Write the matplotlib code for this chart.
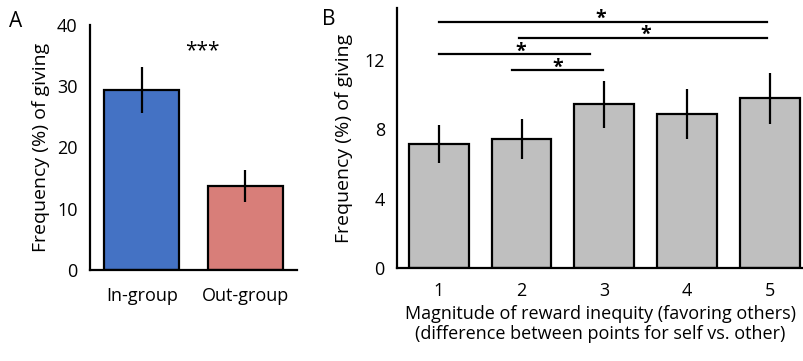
import matplotlib as mpl
mpl.use('agg')
import matplotlib.pyplot as plt

plt.rcParams['font.family'] = ['Open Sans', 'DejaVu Sans']

# panel A
groups = ["In-group", "Out-group"]
group_freq = [29.4, 13.7]
group_err = [3.8, 2.65]
group_colors = ["#4472C4", "#D87E79"]

# panel B
inequity = [1, 2, 3, 4, 5]
inequity_freq = [7.15, 7.45, 9.45, 8.9, 9.8]
inequity_err = [1.1, 1.15, 1.37, 1.42, 1.48]

# significance brackets: (x start, x end, y), star (x, y)
sig_lines = [(1.0, 4.96, 14.2), (1.97, 4.96, 13.3), (1.0, 2.83, 12.35), (1.89, 2.98, 11.42)]
sig_stars = [(2.96, 14.6), (3.5, 13.65), (1.99, 12.7), (2.44, 11.75)]

lw = 1.6
fs = 13
yfs = 14

fig = plt.figure(figsize=(8.04, 3.61), dpi=100)

ax = fig.add_axes([0.1119, 0.2521, 0.2579, 0.6787])
ax.bar(range(len(groups)), group_freq, width=0.72, color=group_colors,
       edgecolor='black', linewidth=lw)
ax.errorbar(range(len(groups)), group_freq, yerr=group_err, fmt='none',
            ecolor='black', elinewidth=lw, capsize=0)
ax.set_xlim(-0.5, 1.5)
ax.set_ylim(0, 40)
ax.set_yticks([0, 10, 20, 30, 40])
ax.set_xticks(range(len(groups)))
ax.set_xticklabels(groups)
ax.tick_params(axis='y', length=0, pad=9, labelsize=fs)
ax.tick_params(axis='x', length=0, pad=12, labelsize=fs)
ax.spines['top'].set_visible(False)
ax.spines['right'].set_visible(False)
ax.spines['left'].set_linewidth(lw)
ax.spines['bottom'].set_linewidth(lw)
ax.set_ylabel("Frequency (%) of giving", fontsize=yfs, labelpad=5)
ax.text(0.58, 35.8, "***", ha='center', va='center', fontsize=15)
fig.text(0.019, 0.94, "A", fontsize=15, ha='center', va='center')

ax = fig.add_axes([0.4942, 0.2576, 0.5045, 0.7194])
ax.bar(inequity, inequity_freq, width=0.72, color="#BFBFBF",
       edgecolor='black', linewidth=lw)
ax.errorbar(inequity, inequity_freq, yerr=inequity_err, fmt='none',
            ecolor='black', elinewidth=lw, capsize=0)
for x0, x1, y in sig_lines:
    ax.plot([x0, x1], [y, y], color='black', linewidth=lw)
for x, y in sig_stars:
    ax.text(x, y - 0.2, "*", ha='center', va='center', fontsize=14, fontweight='bold')
ax.set_xlim(0.5, 5.4)
ax.set_ylim(0, 15)
ax.set_yticks([0, 4, 8, 12])
ax.set_xticks(inequity)
ax.tick_params(axis='y', length=0, pad=9, labelsize=fs)
ax.tick_params(axis='x', length=0, pad=10, labelsize=fs)
ax.spines['top'].set_visible(False)
ax.spines['right'].set_visible(False)
ax.spines['left'].set_linewidth(lw)
ax.spines['bottom'].set_linewidth(lw)
ax.set_ylabel("Frequency (%) of giving", fontsize=yfs, labelpad=8)
ax.set_xlabel("Magnitude of reward inequity (favoring others)\n(difference between points for self vs. other)",
              fontsize=fs, labelpad=4, linespacing=1.12)
fig.text(0.409, 0.945, "B", fontsize=15, ha='center', va='center')

plt.savefig("out.png", dpi=100)
